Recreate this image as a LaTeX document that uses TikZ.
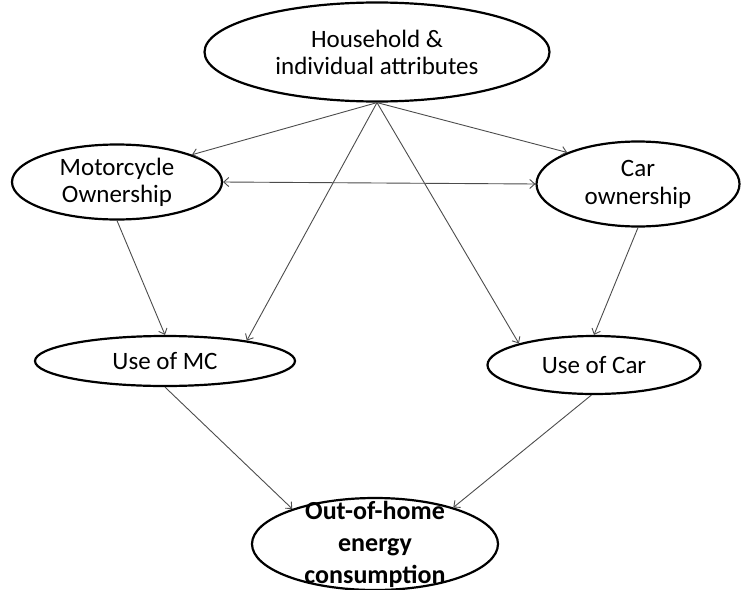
\documentclass[tikz,border=0pt]{standalone}
\usepackage{fontspec}
\setmainfont{Carlito}
\usetikzlibrary{shapes.geometric,arrows.meta}
\begin{document}
\begin{tikzpicture}[x=1pt,y=1pt,>={Straight Barb[length=5pt,width=9pt]}]
                \tikzstyle{every node}+=[inner sep=0pt,align=center,font=\fontsize{25}{27}\selectfont]
                \tikzstyle{ellip}=[draw,ellipse,line width=2.2pt]
                \tikzstyle{link}=[draw=black!70,line width=0.9pt,->]
                \useasboundingbox (0,0) rectangle (741,-589);
                \node [ellip,minimum width=345,minimum height=99] (attrib) at (377,-52) {Household \&\\individual attributes};
                \node [ellip,minimum width=210,minimum height=75] (motoown) at (117,-182) {Motorcycle\\Ownership};
                \node [ellip,minimum width=203,minimum height=85,font=\fontsize{25}{28}\selectfont] (carown) at (638,-184) {Car\\ownership};
                \node [ellip,minimum width=260,minimum height=50] (usemc) at (165,-361) {Use of MC};
                \node [ellip,minimum width=213,minimum height=58] (usecar) at (594,-365) {Use of Car};
                \node [ellip,minimum width=246,minimum height=92,inner ysep=-30pt,font=\fontsize{26}{32}\selectfont\bfseries] (energy) at (375,-544) {Out-of-home\\energy\\consumption};
                \draw [link] (attrib.south) -- (motoown.20);
                \draw [link] (attrib.south) -- (carown.156);
                \draw [link] (attrib.south) -- (usemc.14);
                \draw [link] (attrib.south) -- (usecar.164);
                \draw [link,<->] (motoown.east) -- (carown.west);
                \draw [link] (motoown.south) -- (usemc.north);
                \draw [link] (carown.south) -- (usecar.north);
                \draw [link] (usemc.south) -- (energy.157);
                \draw [link] (usecar.265) -- (energy.25);
            \end{tikzpicture}
\end{document}
